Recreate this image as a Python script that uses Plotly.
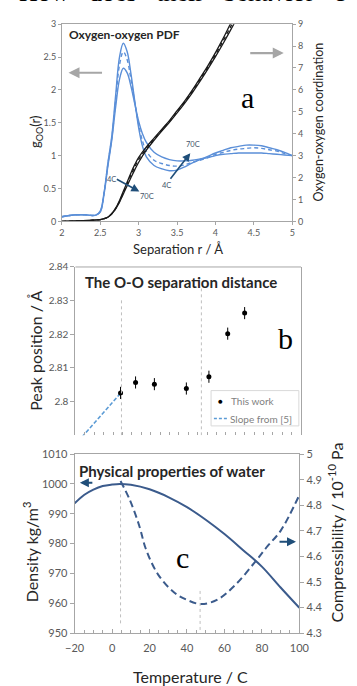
import plotly.graph_objects as go

W, H = 357, 686


def fx(px):
    return px / W


def fy(py):
    return 1 - py / H


# ---- (a) oxygen-oxygen pair distribution and running coordination ----
r_pdf = [2.0, 2.1, 2.2, 2.3, 2.4, 2.45, 2.5, 2.55, 2.6, 2.65, 2.7, 2.75, 2.8, 2.85,
         2.9, 2.95, 3.0, 3.05, 3.1, 3.2, 3.3, 3.4, 3.5, 3.6, 3.7, 3.8, 3.9, 4.0,
         4.1, 4.2, 4.3, 4.4, 4.5, 4.6, 4.7, 4.8, 4.9, 5.0]
g_4c = [0.07, 0.09, 0.10, 0.10, 0.09, 0.10, 0.16, 0.45, 0.90, 1.30, 1.92, 2.50, 2.71, 2.58,
        2.24, 1.82, 1.42, 1.14, 0.98, 0.85, 0.80, 0.77, 0.78, 0.83, 0.89, 0.94, 0.99, 1.04,
        1.08, 1.12, 1.14, 1.16, 1.16, 1.15, 1.12, 1.09, 1.05, 1.00]
g_mid = [0.07, 0.09, 0.10, 0.10, 0.09, 0.10, 0.15, 0.44, 0.88, 1.27, 1.84, 2.38, 2.58, 2.46,
         2.15, 1.80, 1.47, 1.22, 1.07, 0.93, 0.88, 0.85, 0.84, 0.86, 0.90, 0.93, 0.97, 1.02,
         1.05, 1.08, 1.10, 1.11, 1.12, 1.11, 1.09, 1.07, 1.03, 1.00]
g_70c = [0.07, 0.09, 0.10, 0.10, 0.09, 0.10, 0.14, 0.42, 0.85, 1.24, 1.74, 2.16, 2.33, 2.26,
         2.05, 1.78, 1.52, 1.33, 1.20, 1.05, 0.98, 0.94, 0.92, 0.92, 0.93, 0.95, 0.97, 1.00,
         1.02, 1.03, 1.04, 1.04, 1.04, 1.04, 1.03, 1.02, 1.01, 1.00]

r_coord = [2.0, 2.2, 2.4, 2.5, 2.55, 2.6, 2.65, 2.7, 2.75, 2.8, 2.85, 2.9, 2.95, 3.0,
           3.1, 3.2, 3.3, 3.4, 3.5, 3.6, 3.7, 3.8, 3.9, 4.0, 4.1, 4.2, 4.3]
n_4c = [0.0, 0.02, 0.05, 0.08, 0.12, 0.20, 0.36, 0.60, 0.95, 1.37, 1.80, 2.22, 2.60, 2.92,
        3.40, 3.80, 4.20, 4.60, 5.05, 5.50, 6.00, 6.55, 7.10, 7.70, 8.35, 9.05, 9.70]
n_mid = [0.0, 0.02, 0.05, 0.08, 0.12, 0.20, 0.35, 0.58, 0.91, 1.31, 1.72, 2.12, 2.49, 2.82,
         3.33, 3.75, 4.16, 4.56, 5.00, 5.45, 5.94, 6.48, 7.03, 7.61, 8.24, 8.90, 9.56]
n_70c = [0.0, 0.02, 0.05, 0.08, 0.12, 0.19, 0.34, 0.57, 0.88, 1.25, 1.63, 2.00, 2.36, 2.70,
         3.25, 3.70, 4.12, 4.52, 4.95, 5.40, 5.88, 6.40, 6.95, 7.52, 8.12, 8.75, 9.40]

# ---- (b) first-peak position vs temperature ----
T_peak = [4, 12, 22, 39, 51, 61, 70]
peak_pos = [2.8026, 2.8057, 2.8052, 2.8039, 2.8074, 2.8202, 2.8263]
peak_err = [0.0018] * 7
slope_T = [-16.5, 4]
slope_pos = [2.7895, 2.8025]
b_ticks = [2.80, 2.81, 2.82, 2.83, 2.84]
b_ticktext = ["2.8", "2.81", "2.82", "2.83", "2.84"]

# ---- (c) density and isothermal compressibility of water ----
T_dens = [-20, -15, -10, -5, 0, 4, 10, 20, 30, 40, 50, 60, 70, 80, 90, 100]
density = [993.5, 996.3, 998.1, 999.3, 999.8, 1000.0, 999.7, 998.2, 995.6, 992.2,
           988.0, 983.2, 977.8, 972.3, 965.3, 958.5]
T_comp = [4.5, 9.5, 14.5, 18, 24.5, 33, 40, 47.5, 56, 66, 76.5, 83, 90, 100]
compress = [4.895, 4.82, 4.72, 4.63, 4.53, 4.46, 4.43, 4.414, 4.43, 4.49, 4.58, 4.64, 4.70, 4.84]

TMD = 4.5        # temperature of maximum density
T_KMIN = 47.0    # temperature of minimum compressibility

BLUE = "#5b8fd8"
LIGHTBLUE = "#5b9bd5"
NAVY = "#3b5b8c"
ARROWNAVY = "#1f4e79"
AXIS = "#a6a6a6"
TICKC = "#595959"
FONT = "Lato"
SERIF = "Liberation Serif"

fig = go.Figure()

# (a) g(r) curves
for ys, dash in [(g_4c, "solid"), (g_mid, "4px,3px"), (g_70c, "solid")]:
    fig.add_trace(go.Scatter(x=r_pdf, y=ys, mode="lines", line_shape="spline",
                             line=dict(color=BLUE, width=1.4, dash=dash),
                             xaxis="x", yaxis="y", showlegend=False, hoverinfo="skip"))
# (a) coordination curves
for ys, dash in [(n_4c, "solid"), (n_mid, "4px,3px"), (n_70c, "solid")]:
    fig.add_trace(go.Scatter(x=r_coord, y=ys, mode="lines", line_shape="spline",
                             line=dict(color="#1a1a1a", width=1.3, dash=dash),
                             xaxis="x", yaxis="y2", showlegend=False, hoverinfo="skip"))

# (b)
fig.add_trace(go.Scatter(x=slope_T, y=slope_pos, mode="lines",
                         line=dict(color=LIGHTBLUE, width=1.6, dash="4px,2px"),
                         xaxis="x2", yaxis="y3", showlegend=False, hoverinfo="skip"))
fig.add_trace(go.Scatter(x=T_peak, y=peak_pos, mode="markers",
                         marker=dict(color="black", size=5),
                         error_y=dict(type="data", array=peak_err, color="black",
                                      thickness=1, width=0),
                         xaxis="x2", yaxis="y3", showlegend=False, hoverinfo="skip"))

# (c)
fig.add_trace(go.Scatter(x=T_dens, y=density, mode="lines", line_shape="spline",
                         line=dict(color=NAVY, width=2),
                         xaxis="x3", yaxis="y4", showlegend=False, hoverinfo="skip"))
fig.add_trace(go.Scatter(x=T_comp, y=compress, mode="lines", line_shape="spline",
                         line=dict(color=NAVY, width=2, dash="7px,4px"),
                         xaxis="x3", yaxis="y5", showlegend=False, hoverinfo="skip"))

tickfont_s = dict(family=FONT, size=9, color=TICKC)
tickfont_m = dict(family=FONT, size=10, color=TICKC)
tickfont_l = dict(family=FONT, size=11, color=TICKC)
common = dict(showgrid=False, zeroline=False, linecolor=AXIS, linewidth=1,
              tickcolor=AXIS, showline=True)

fig.update_layout(
    width=W, height=H, margin=dict(l=0, r=0, t=0, b=0),
    paper_bgcolor="white", plot_bgcolor="rgba(0,0,0,0)",
    font=dict(family=FONT, color="#262626"),
    xaxis=dict(domain=[fx(55), fx(299)], range=[2, 5], dtick=0.5, tick0=2,
               ticks="outside", ticklen=3, mirror=True, anchor="y",
               tickfont=tickfont_s, **common),
    yaxis=dict(domain=[fy(218.5), fy(17.5)], range=[0, 3], dtick=0.5,
               ticks="outside", ticklen=3, anchor="x", tickfont=tickfont_s, **common),
    yaxis2=dict(overlaying="y", side="right", range=[0, 9], dtick=1,
                ticks="outside", ticklen=3, anchor="x", tickfont=tickfont_s, **common),
    xaxis2=dict(domain=[fx(69.3), fx(308.3)], range=[-20, 100], anchor="y3",
                showticklabels=False, ticks="inside", dtick=5, tick0=-20, ticklen=3,
                showgrid=False, zeroline=False, showline=False, tickcolor=AXIS),
    yaxis3=dict(domain=[fy(436.6), fy(265)], range=[2.79, 2.84], anchor="x2",
                tickvals=b_ticks, ticktext=b_ticktext, ticks="outside", ticklen=4,
                mirror=True, tickfont=tickfont_m, **common),
    xaxis3=dict(domain=[fx(68.5), fx(306.5)], range=[-20, 100], dtick=20, tick0=-20,
                ticks="inside", ticklen=4, mirror=True, anchor="y4", ticklabelstandoff=5,
                minor=dict(dtick=5, ticks="inside", ticklen=3, tickcolor=AXIS),
                tickfont=tickfont_l, **common),
    yaxis4=dict(domain=[fy(638.3), fy(455.7)], range=[950, 1010], dtick=10,
                ticks="outside", ticklen=4, anchor="x3", tickfont=tickfont_l, **common),
    yaxis5=dict(overlaying="y4", side="right", range=[4.3, 5.0], dtick=0.1,
                ticks="outside", ticklen=4, anchor="x3", tickfont=tickfont_l, **common),
)

shapes = []
# top border of (b)
shapes.append(dict(type="line", xref="x2 domain", yref="y3 domain", x0=0, x1=1, y0=1, y1=1,
                   line=dict(color=AXIS, width=1)))
# reference temperatures
for t, ytop in [(TMD, 2.8306), (T_KMIN, 2.8336)]:
    shapes.append(dict(type="line", xref="x2", yref="y3", x0=t, x1=t, y0=2.79, y1=ytop,
                       line=dict(color="#bfbfbf", width=1, dash="dot")))
for t, y0, y1 in [(TMD, 953.3, 997.7), (T_KMIN, 951.1, 964.8)]:
    shapes.append(dict(type="line", xref="x3", yref="y4", x0=t, x1=t, y0=y0, y1=y1,
                       line=dict(color="#bfbfbf", width=1, dash="dot")))
# legend box of (b)
shapes.append(dict(type="rect", xref="paper", yref="paper", x0=fx(213), x1=fx(306),
                   y0=fy(427), y1=fy(391), line=dict(color="#d9d9d9", width=1),
                   fillcolor="white"))
shapes.append(dict(type="line", xref="paper", yref="paper", x0=fx(216), x1=fx(231),
                   y0=fy(419.5), y1=fy(419.5),
                   line=dict(color=LIGHTBLUE, width=1.6, dash="3px,2px")))
fig.update_layout(shapes=shapes)

ann = []


def text(px, py, s, size, color="#262626", family=FONT, xanchor="center", angle=0):
    ann.append(dict(x=fx(px), y=fy(py), xref="paper", yref="paper", text=s,
                    showarrow=False, xanchor=xanchor, yanchor="middle", textangle=angle,
                    font=dict(family=family, size=size, color=color)))


def arrow(hx, hy, tx, ty, color, width, head=2, size=1.0):
    ann.append(dict(x=fx(hx), y=fy(hy), xref="paper", yref="paper", text="",
                    showarrow=True, ax=tx - hx, ay=ty - hy, axref="pixel", ayref="pixel",
                    arrowcolor=color, arrowwidth=width, arrowhead=head, arrowsize=size))


# running text above the figure (only its lowest part falls on the page)
ann.append(dict(x=fx(182), y=1, xref="paper", yref="paper", yshift=31,
                text="How&nbsp;&nbsp; does&nbsp;&nbsp; their&nbsp;&nbsp; behavior&nbsp;&nbsp; c",
                showarrow=False, xanchor="center", yanchor="top",
                font=dict(family=SERIF, size=26, color="black")))

# (a)
text(60, 28, "<b>Oxygen-oxygen PDF</b>", 12, xanchor="left")
text(252, 92, "a", 30, color="black", family=SERIF)
text(27, 127, "g<sub>OO</sub>(r)", 13, angle=-90)
text(327, 117, "Oxygen-oxygen coordination", 12.5, angle=-90)
text(177.5, 247, "Separation r / Å", 13)
arrow(62, 67, 97, 67, "#a6a6a6", 2.2, head=2, size=1.0)
arrow(290, 47, 255, 47, "#a6a6a6", 2.2, head=2, size=1.0)
arrow(137, 188, 113, 175, ARROWNAVY, 1.6, head=2, size=1.0)
arrow(191, 149, 170, 176, ARROWNAVY, 1.6, head=2, size=1.0)
text(107, 176, "4C", 7.5, color="#44546a")
text(145, 193, "70C", 7.5, color="#44546a")
text(166, 182, "4C", 7.5, color="#44546a")
text(194, 140, "70C", 7.5, color="#44546a")

# (b)
text(77, 280, "<b>The O-O separation distance</b>", 15, xanchor="left")
text(292, 338, "b", 30, color="black", family=SERIF)
text(27, 350, "Peak position / Å", 16, angle=-90)
text(223.5, 401.5, "●", 8, color="black")
text(232, 401.5, "This work", 10, color="#7f7f7f", xanchor="left")
text(231, 419.5, "Slope from [5]", 10, color="#7f7f7f", xanchor="left")

# (c)
text(71, 473, "<b>Physical properties of water</b>", 15, xanchor="left")
text(183, 561, "c", 30, color="black", family=SERIF)
text(22, 555, "Density kg/m<sup>3</sup>", 16, angle=-90)
text(345, 536, "Compressibility / 10<sup>-10</sup> Pa", 16, angle=-90)
text(191.7, 682, "Temperature / C", 16)
arrow(74, 485, 88, 485, ARROWNAVY, 2, head=2, size=0.9)
arrow(303, 545, 285, 545, ARROWNAVY, 2, head=2, size=0.9)

fig.update_layout(annotations=ann)

fig.write_html("out.html")
